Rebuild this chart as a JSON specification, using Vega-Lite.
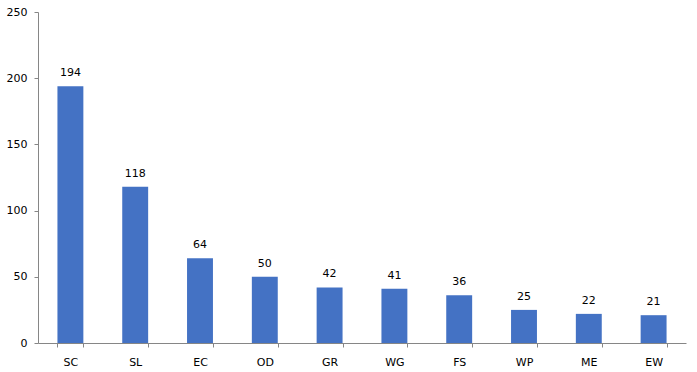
{
  "$schema": "https://vega.github.io/schema/vega-lite/v6.json",
  "autosize": "none",
  "padding": {"left": 38, "top": 12, "right": 11, "bottom": 29},
  "width": 648,
  "height": 331,
  "background": "white",
  "data": {"values": [
    {"cat": "SC", "value": 194},
    {"cat": "SL", "value": 118},
    {"cat": "EC", "value": 64},
    {"cat": "OD", "value": 50},
    {"cat": "GR", "value": 42},
    {"cat": "WG", "value": 41},
    {"cat": "FS", "value": 36},
    {"cat": "WP", "value": 25},
    {"cat": "ME", "value": 22},
    {"cat": "EW", "value": 21}
  ]},
  "config": {
    "view": {"stroke": null},
    "font": "DejaVu Sans",
    "axis": {"domainColor": "#868686", "tickColor": "#868686", "labelColor": "#000000", "labelFont": "DejaVu Sans", "labelFontSize": 11, "grid": false, "tickSize": 4, "title": null}
  },
  "encoding": {
    "x": {"field": "cat", "type": "nominal", "sort": null,
      "scale": {"paddingInner": 0.6, "paddingOuter": 0.3},
      "axis": {"labelAngle": 0, "tickBand": "extent", "labelPadding": 9, "title": null}},
    "y": {"field": "value", "type": "quantitative",
      "scale": {"domain": [0, 250], "nice": false},
      "axis": {"values": [0, 50, 100, 150, 200, 250], "labelPadding": 7, "title": null}}
  },
  "layer": [
    {"mark": {"type": "bar", "color": "#4472C4"}},
    {"mark": {"type": "text", "baseline": "bottom", "dy": -8, "fontSize": 11, "font": "DejaVu Sans", "color": "#000000"},
     "encoding": {"text": {"field": "value", "type": "quantitative"}}}
  ]
}
